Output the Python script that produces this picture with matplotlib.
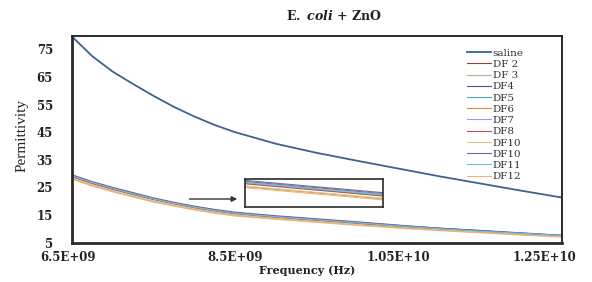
import matplotlib
matplotlib.use("Agg")
import matplotlib.pyplot as plt
import matplotlib.transforms as mtransforms

# frequency grid (Hz) and permittivity readings
FREQ = [6.5e9, 6.75e9, 7.0e9, 7.25e9, 7.5e9, 7.75e9, 8.0e9, 8.25e9, 8.5e9,
        9.0e9, 9.5e9, 10.0e9, 10.5e9, 11.0e9, 11.5e9, 12.0e9, 12.5e9]

saline = [79.8, 72.6, 67.0, 62.5, 58.2, 54.2, 50.7, 47.6, 45.0, 40.8, 37.5, 34.6, 31.8, 29.0, 26.4, 23.8, 21.3]
df2 = [29.0, 26.5, 24.4, 22.5, 20.7, 19.1, 17.7, 16.5, 15.5, 14.2, 13.1, 12.0, 10.9, 9.9, 9.1, 8.2, 7.4]
df3 = [29.1, 26.6, 24.5, 22.6, 20.8, 19.2, 17.8, 16.6, 15.6, 14.3, 13.2, 12.1, 11.0, 10.0, 9.2, 8.3, 7.5]
df4 = [29.4, 26.9, 24.8, 22.9, 21.0, 19.4, 18.0, 16.8, 15.8, 14.5, 13.4, 12.3, 11.2, 10.2, 9.3, 8.4, 7.6]
df5 = [29.2, 26.7, 24.6, 22.7, 20.9, 19.3, 17.9, 16.7, 15.7, 14.4, 13.3, 12.2, 11.1, 10.0, 9.2, 8.3, 7.5]
df6 = [28.2, 25.7, 23.6, 21.7, 19.9, 18.4, 17.0, 15.8, 14.8, 13.6, 12.5, 11.4, 10.4, 9.5, 8.7, 7.9, 7.1]
df7 = [29.3, 26.8, 24.7, 22.8, 20.9, 19.3, 17.9, 16.7, 15.7, 14.4, 13.3, 12.2, 11.1, 10.1, 9.2, 8.3, 7.5]
df8 = [28.9, 26.4, 24.3, 22.4, 20.6, 19.0, 17.6, 16.4, 15.4, 14.1, 13.0, 11.9, 10.8, 9.8, 9.0, 8.1, 7.3]
df10a = [28.4, 25.9, 23.8, 21.9, 20.1, 18.6, 17.2, 16.0, 15.0, 13.7, 12.6, 11.5, 10.5, 9.6, 8.8, 8.0, 7.2]
df10b = [29.6, 27.1, 25.0, 23.1, 21.2, 19.6, 18.2, 17.0, 16.0, 14.7, 13.6, 12.5, 11.3, 10.2, 9.4, 8.5, 7.6]
df11 = [29.2, 26.7, 24.6, 22.6, 20.8, 19.2, 17.8, 16.6, 15.6, 14.3, 13.2, 12.1, 11.0, 10.0, 9.1, 8.3, 7.5]
df12 = [28.0, 25.5, 23.4, 21.5, 19.7, 18.2, 16.8, 15.6, 14.6, 13.4, 12.3, 11.2, 10.2, 9.3, 8.5, 7.7, 7.0]

LABELS = ["saline", "DF 2", "DF 3", "DF4", "DF5", "DF6", "DF7", "DF8", "DF10", "DF10", "DF11", "DF12"]
SERIES = [saline, df2, df3, df4, df5, df6, df7, df8, df10a, df10b, df11, df12]
COLORS = ["#3F6190", "#9A3C3A", "#A9B88E", "#5A4A80", "#4BA6B8", "#E8863A",
          "#8EA8CC", "#C0504D", "#C9CC8C", "#7A6499", "#6CC0D8", "#F5B07C"]

X_TICKS = [6.5e9, 8.5e9, 10.5e9, 12.5e9]
X_TICK_LABELS = ["6.5E+09", "8.5E+09", "1.05E+10", "1.25E+10"]
Y_TICKS = [5, 15, 25, 35, 45, 55, 65, 75]

plt.rcParams["mathtext.fontset"] = "custom"
plt.rcParams["mathtext.rm"] = "DejaVu Serif:bold"
plt.rcParams["mathtext.it"] = "DejaVu Serif:italic:bold"

W, H = 592, 282
fig = plt.figure(figsize=(W / 100, H / 100), dpi=100)
ax = fig.add_axes([71.7 / W, 1 - 242.5 / H, (562 - 71.7) / W, (242.5 - 35.7) / H])

lines = []
for name, vals, col in zip(LABELS, SERIES, COLORS):
	lw = 1.3 if name == "saline" else 0.8
	ln, = ax.plot(FREQ, vals, color=col, lw=lw, label=name)
	lines.append(ln)

ax.set_xlim(6.5e9, 12.5e9)
ax.set_ylim(5, 80)
ax.set_xticks(X_TICKS)
ax.set_xticklabels(X_TICK_LABELS)
ax.set_yticks(Y_TICKS)
ax.tick_params(length=0, labelsize=8.5, colors="#222222")
ax.tick_params(axis="y", pad=13.5)
ax.tick_params(axis="x", pad=6)
for lab in ax.get_xticklabels() + ax.get_yticklabels():
	lab.set_fontfamily("DejaVu Serif")
	lab.set_fontweight("bold")

# excel nudges the edge labels inward
xl = ax.get_xticklabels()
for lab, dx in ((xl[0], -4), (xl[-1], -18)):
	lab.set_transform(lab.get_transform() + mtransforms.ScaledTranslation(dx / 100, 0, fig.dpi_scale_trans))

for side in ("left", "bottom"):
	ax.spines[side].set_linewidth(2.0)
	ax.spines[side].set_color("#2a2a2a")
for side in ("top", "right"):
	ax.spines[side].set_linewidth(1.4)
	ax.spines[side].set_color("#2a2a2a")

fig.text(307 / W, 1 - 271 / H, "Frequency (Hz)", ha="center", va="center",
	fontsize=8, fontweight="bold", family="DejaVu Serif", color="#222222")
fig.text(22 / W, 1 - 135 / H, "Permittivity", ha="center", va="center", rotation=90,
	fontsize=11, family="Liberation Serif", color="#222222")
fig.text(334 / W, 1 - 16 / H, r"$\mathrm{E.}\ \mathit{coli}\ \mathrm{+\ ZnO}$",
	ha="center", va="center", fontsize=9, color="#222222")

leg = ax.legend(handles=lines, loc="upper left", bbox_to_anchor=(467 / W, 1 - 48.5 / H),
	bbox_transform=fig.transFigure, frameon=False, borderpad=0,
	borderaxespad=0, handlelength=2.3, handletextpad=0.15, labelspacing=0.185,
	prop={"family": "DejaVu Serif", "size": 7.5})
for t in leg.get_texts():
	t.set_color("#333333")

# zoomed inset
ins = fig.add_axes([245 / W, 1 - 207.3 / H, 137.7 / W, 28.3 / H])
for name, vals, col in zip(LABELS[1:], SERIES[1:], COLORS[1:]):
	ins.plot(FREQ, vals, color=col, lw=0.8)
ins.set_xlim(9.0e9, 10.0e9)
ins.set_ylim(9.86, 14.96)
ins.set_xticks([])
ins.set_yticks([])
for s in ins.spines.values():
	s.set_linewidth(1.2)
	s.set_color("#2a2a2a")

ax.annotate("", xy=(240 / W, 1 - 199 / H), xytext=(186.7 / W, 1 - 199 / H),
	xycoords="figure fraction", textcoords="figure fraction",
	arrowprops=dict(arrowstyle="-|>", color="#333333", lw=1.0, mutation_scale=8))

fig.savefig("out.png", dpi=100)
